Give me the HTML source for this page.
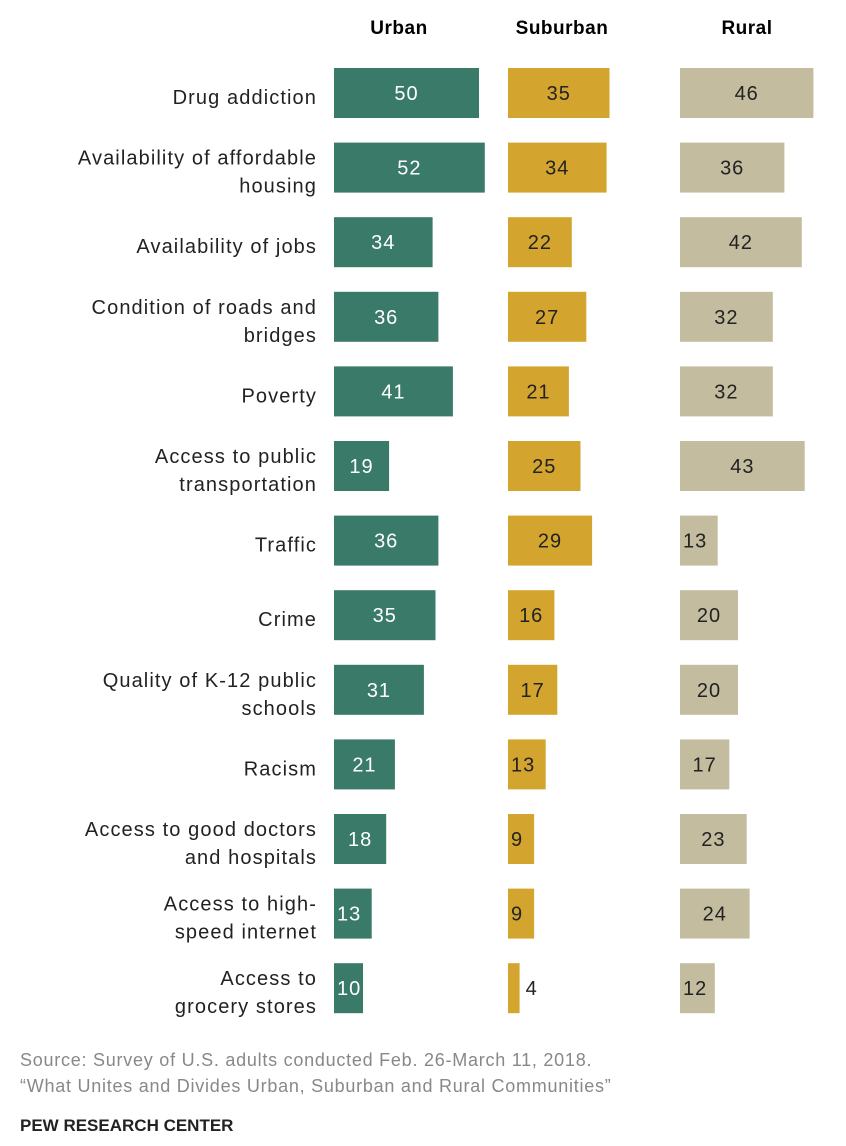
<!DOCTYPE html>
<html><head><meta charset="utf-8"><style>
body{margin:0;background:#fff;width:846px;height:1146px;overflow:hidden;font-family:"Liberation Sans",sans-serif;}
svg{display:block}
</style></head><body>
<svg id="chart" width="846" height="1146" xmlns="http://www.w3.org/2000/svg"></svg>
<script>
const categories=[["Drug addiction"],["Availability of affordable","housing"],["Availability of jobs"],["Condition of roads and","bridges"],["Poverty"],["Access to public","transportation"],["Traffic"],["Crime"],["Quality of K-12 public","schools"],["Racism"],["Access to good doctors","and hospitals"],["Access to high-","speed internet"],["Access to","grocery stores"]];
const urban=[50,52,34,36,41,19,36,35,31,21,18,13,10];
const suburban=[35,34,22,27,21,25,29,16,17,13,9,9,4];
const rural=[46,36,42,32,32,43,13,20,20,17,23,24,12];
const seriesNames=["Urban","Suburban","Rural"];
const svg=document.getElementById('chart');
const NS='http://www.w3.org/2000/svg';
const scale=2.9;
const x=v=>v*scale;
const y=i=>68+i*74.6;
const barH=50;
const cols=[{data:urban,x0:334,color:'#3a7a69',tc:'#fff',hx:399},{data:suburban,x0:508,color:'#d4a52e',tc:'#222',hx:562},{data:rural,x0:680,color:'#c4bc9f',tc:'#222',hx:747}];
function mk(tag,attrs,text){const e=document.createElementNS(NS,tag);for(const k in attrs)e.setAttribute(k,attrs[k]);if(text!==undefined)e.textContent=text;svg.appendChild(e);return e;}
cols.forEach((c,ci)=>{
  const h=mk('text',{x:c.hx,y:34,'text-anchor':'middle','font-size':19,'font-weight':'bold','letter-spacing':0.5,fill:'#000'},seriesNames[ci]);
  
  
  c.data.forEach((v,i)=>{
    const w=x(v);
    const r=mk('rect',{x:c.x0,y:y(i),width:w,height:barH,fill:c.color});
    
    
    let tx,anchor='middle',fill=c.tc;
    if(w>44){tx=c.x0+w/2;}else if(w>=20){tx=c.x0+3;anchor='start';}else{tx=c.x0+w+6;anchor='start';fill='#222';}
    const t=mk('text',{x:tx,y:y(i)+barH/2+7,'text-anchor':anchor,'font-size':20,'letter-spacing':1,fill:fill},String(v));
    
    
  });
});
categories.forEach((lines,i)=>{
  const cy=y(i)+barH/2;
  lines.forEach((ln,j)=>{
    const off=lines.length===1?11:(j===0?-3:25);
    const t=mk('text',{x:317,y:cy+off,'text-anchor':'end','font-size':20,'letter-spacing':1.1,fill:'#222'},ln);
    
    
  });
});
const s1=mk('text',{x:20,y:1066,'font-size':18,'letter-spacing':0.75,fill:'#888'},'Source: Survey of U.S. adults conducted Feb. 26-March 11, 2018.');

const s2=mk('text',{x:20,y:1092,'font-size':18,'letter-spacing':0.75,fill:'#888'},'“What Unites and Divides Urban, Suburban and Rural Communities”');

const s3=mk('text',{x:20,y:1131,'font-size':17,'font-weight':'bold',fill:'#222'},'PEW RESEARCH CENTER');

</script>
</body></html>
